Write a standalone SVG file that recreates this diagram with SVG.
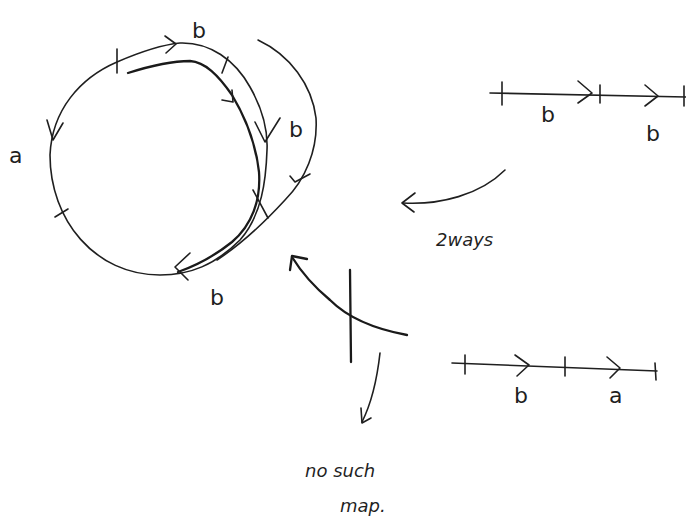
<svg xmlns="http://www.w3.org/2000/svg" width="686" height="528" viewBox="0 0 686 528">
<style>
.s{fill:none;stroke:#1f1f1f;stroke-width:1.6;stroke-linecap:round;stroke-linejoin:round}
.t{fill:none;stroke:#1a1a1a;stroke-width:2.3;stroke-linecap:round;stroke-linejoin:round}
.l{font-family:"DejaVu Sans","Liberation Sans",sans-serif;fill:#1f1f1f;font-size:22px}
.w{font-family:"DejaVu Sans","Liberation Sans",sans-serif;fill:#1f1f1f;font-size:18px;font-style:italic}
</style>
<rect width="686" height="528" fill="#ffffff"/>
<g id="circle-figure">
<path class="s" d="M50,155 C52,110 80,78 117,62 C140,52 160,45 180,43 C210,42 235,60 250,87 C262,108 268,130 267,150 C266,180 262,215 240,240 C215,265 190,275 160,275 C95,275 50,220 50,155 Z"/>
<path class="t" d="M128,73 C150,66 170,61 190,61 C205,62 218,75 232,95 C247,120 256,145 259,172 C261,200 252,225 232,242 C212,258 195,266 178,272"/>
<path class="s" d="M258,40 C290,55 312,85 316,118 C318,150 305,180 285,200 C262,225 240,245 217,260"/>
<path class="s" d="M165,36 L176,44 L166,53"/>
<path class="s" d="M117,49 L117,73"/>
<path class="s" d="M47,120 L53,140 L63,123"/>
<path class="s" d="M55,217 L68,209"/>
<path class="s" d="M190,253 L175,267 L188,280"/>
<path class="s" d="M228,57 L222,73"/>
<path class="s" d="M222,100 L233,102 L232,90"/>
<path class="s" d="M255,122 L265,142 L280,118"/>
<path class="s" d="M253,190 L268,218"/>
<path class="s" d="M290,176 L295,182 L310,174"/>
<text class="l" x="9" y="163">a</text>
<text class="l" x="192" y="38">b</text>
<text class="l" x="289" y="137">b</text>
<text class="l" x="210" y="305">b</text>
</g>
<g id="line-bb">
<path class="s" d="M490,93 L686,97"/>
<path class="s" d="M502,82 L502,105"/>
<path class="s" d="M600,85 L600,103"/>
<path class="s" d="M684,86 L684,106"/>
<path class="s" d="M578,81 L592,93 L578,103"/>
<path class="s" d="M645,85 L658,96 L645,106"/>
<text class="l" x="541" y="122">b</text>
<text class="l" x="646" y="141">b</text>
</g>
<g id="line-ba">
<path class="s" d="M452,363 L657,371"/>
<path class="s" d="M465,355 L465,374"/>
<path class="s" d="M565,357 L565,376"/>
<path class="s" d="M655,363 L656,380"/>
<path class="s" d="M515,355 L529,365 L517,376"/>
<path class="s" d="M607,357 L620,368 L610,378"/>
<text class="l" x="514" y="403">b</text>
<text class="l" x="609" y="403">a</text>
</g>
<g id="connectors">
<path class="s" d="M505,170 C480,195 440,205 403,203"/>
<path class="s" d="M415,193 L402,203 L414,212"/>
<text class="w" x="436" y="246">2ways</text>
<path class="t" d="M407,335 C380,330 350,320 330,300 C312,285 300,270 292,257"/>
<path class="t" d="M290,270 L292,256 L307,259"/>
<path class="t" d="M350,270 L351,362"/>
<path class="s" d="M380,353 C377,380 372,402 362,422"/>
<path class="s" d="M361,408 L362,423 L371,418"/>
<text class="w" x="305" y="477">no such</text>
<text class="w" x="340" y="512">map.</text>
</g>
</svg>
